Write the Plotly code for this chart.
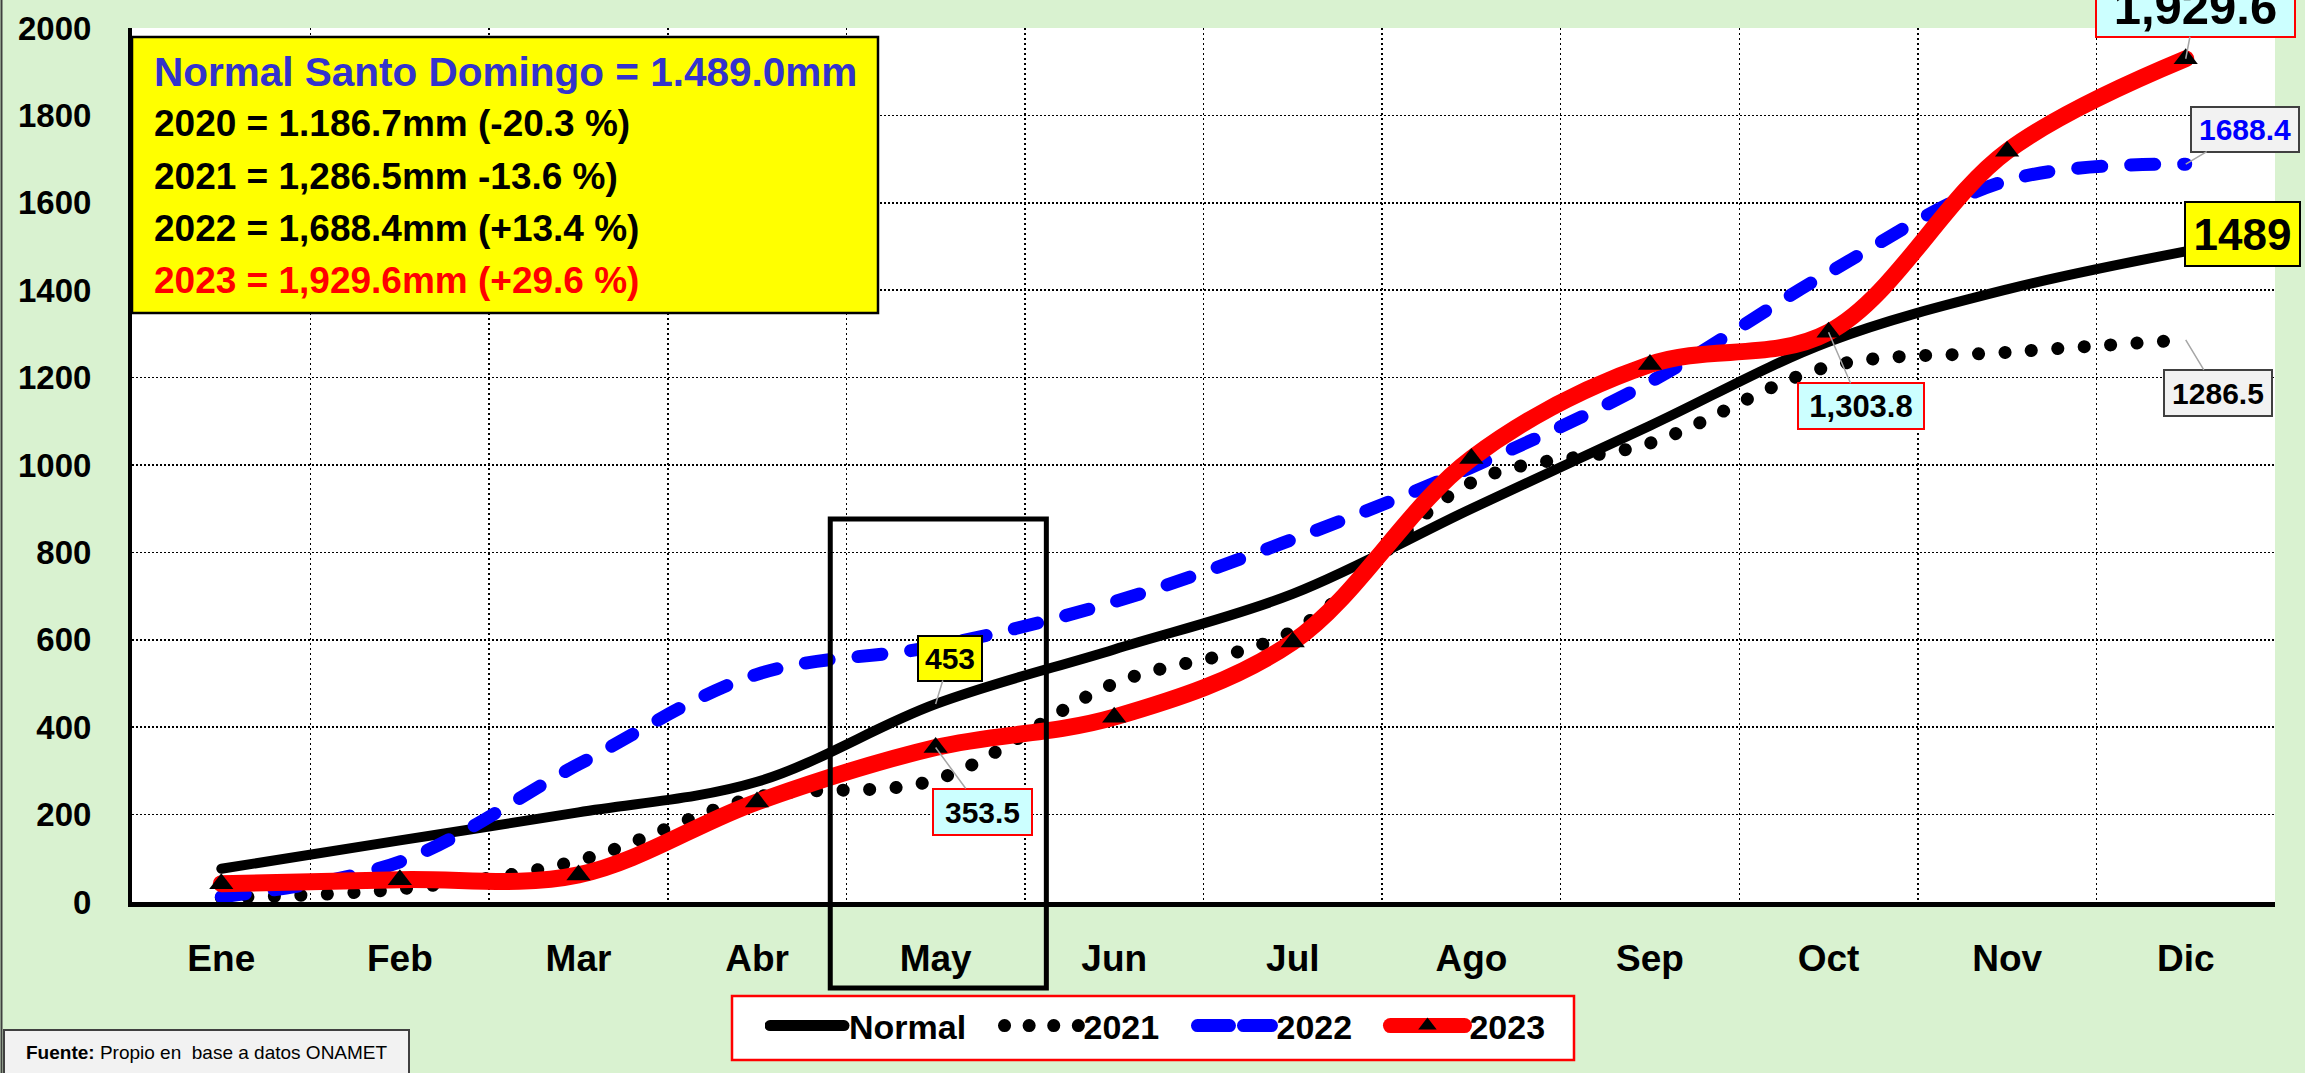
import plotly.graph_objects as go

# ---------------- data ----------------
months = ["Ene", "Feb", "Mar", "Abr", "May", "Jun", "Jul", "Ago", "Sep", "Oct", "Nov", "Dic"]
normal = [76, 141, 205, 275, 453, 578, 705, 900, 1090, 1282, 1402, 1489]
y2021 = [10, 30, 95, 240, 280, 500, 620, 960, 1050, 1225, 1258, 1286.5]
y2022 = [12, 92, 315, 521, 585, 687, 830, 995, 1190, 1440, 1651, 1688.4]
y2023 = [42, 51, 62, 229, 353.5, 423, 595, 1015, 1230, 1303.8, 1718, 1929.6]
y_ticks = [0, 200, 400, 600, 800, 1000, 1200, 1400, 1600, 1800, 2000]
series_names = ["Normal", "2021", "2022", "2023"]

stats_text = [
    "Normal Santo Domingo = 1.489.0mm",
    "2020 = 1.186.7mm (-20.3 %)",
    "2021 = 1,286.5mm -13.6 %)",
    "2022 = 1,688.4mm (+13.4 %)",
    "2023 = 1,929.6mm (+29.6 %)",
]
source_text = "<b>Fuente:</b> Propio en\u00a0 base a datos ONAMET"

# ---------------- geometry helpers (layout only) ----------------
W, H = 2305, 1073
L, R, T, B = 132, 2275, 28, 902
FONT = "Arial, Liberation Sans, sans-serif"


def px(xp):
    return (xp - L) / (R - L)


def py(yp):
    return (B - yp) / (B - T)


NB = "\u00a0"
legend_pad = [NB * 3, NB * 3, NB * 3, ""]

fig = go.Figure()
fig.add_trace(go.Scatter(x=months, y=normal, name=series_names[0] + legend_pad[0], mode="lines",
                         line=dict(color="black", width=10, shape="spline", smoothing=1)))
fig.add_trace(go.Scatter(x=months, y=y2021, name=series_names[1] + legend_pad[1], mode="lines",
                         line=dict(color="black", width=13, dash="13px,14px", shape="spline", smoothing=1)))
fig.add_trace(go.Scatter(x=months, y=y2022, name=series_names[2] + legend_pad[2], mode="lines",
                         line=dict(color="#0000FF", width=13, dash="37px,16px", shape="spline", smoothing=1)))
fig.add_trace(go.Scatter(x=months, y=y2023, name=series_names[3] + legend_pad[3], mode="lines+markers",
                         line=dict(color="#FF0000", width=17, shape="spline", smoothing=1),
                         marker=dict(symbol="triangle-up", size=21, color="black")))

shapes = []
annotations = []

# stats box
shapes.append(dict(type="rect", xref="paper", yref="paper", x0=px(132), x1=px(878), y0=py(313), y1=py(37),
                   fillcolor="#FFFF00", line=dict(color="black", width=2.5), layer="above"))
stat_colors = ["#3333CC", "black", "black", "black", "#FF0000"]
stat_sizes = [40.5, 37, 37, 37, 37]
stat_y = [72, 124, 176, 228, 280]
for txt, col, sz, yy in zip(stats_text, stat_colors, stat_sizes, stat_y):
    annotations.append(dict(text=txt, xref="paper", yref="paper", x=px(152), y=py(yy),
                            xanchor="left", yanchor="middle", showarrow=False,
                            font=dict(family=FONT, size=sz, color=col, weight="bold")))

# May highlight rectangle
may_i = months.index("May")
shapes.append(dict(type="rect", xref="paper", yref="paper",
                   x0=(may_i - 0.59 + 0.5) / 12, x1=(may_i + 0.62 + 0.5) / 12,
                   y0=py(988), y1=py(519), line=dict(color="black", width=5), layer="above"))

# legend frame (the legend itself is drawn transparent on top of it)
shapes.append(dict(type="rect", xref="paper", yref="paper", x0=px(732), x1=px(1574), y0=py(1060), y1=py(996),
                   fillcolor="white", line=dict(color="#FF0000", width=2.5), layer="above"))

# source box
shapes.append(dict(type="rect", xref="paper", yref="paper", x0=px(4), x1=px(409), y0=py(1090), y1=py(1030),
                   fillcolor="#F2F2F2", line=dict(color="#404040", width=2), layer="above"))
annotations.append(dict(text=source_text, xref="paper", yref="paper", x=px(24), y=py(1052),
                        xanchor="left", yanchor="middle", showarrow=False,
                        font=dict(family=FONT, size=19, color="black")))
# outer left border
shapes.append(dict(type="line", xref="paper", yref="paper", x0=px(1.5), x1=px(1.5), y0=py(-5), y1=py(1080),
                   line=dict(color="#404040", width=2)))

# data labels
CYAN, GRAY, YEL = "#CCFFFF", "#F2F2F2", "#FFFF00"
labels = [
    dict(i=4, v=normal[4], txt=f"{normal[4]:.0f}", ax=14, ay=-46, bg=YEL, bc="black", fc="black", fs=30, w=62, h=43),
    dict(i=4, v=y2023[4], txt=f"{y2023[4]:.1f}", ax=47, ay=64, bg=CYAN, bc="#FF0000", fc="black", fs=30, w=97, h=44),
    dict(i=9, v=y2023[9], txt=f"{y2023[9]:,.1f}", ax=32, ay=74, bg=CYAN, bc="#FF0000", fc="black", fs=31, w=124, h=44),
    dict(i=11, v=y2023[11], txt=f"{y2023[11]:,.1f}", ax=10, ay=-52, bg=CYAN, bc="#FF0000", fc="black", fs=49, w=197, h=58),
    dict(i=11, v=y2022[11], txt=f"{y2022[11]:.1f}", ax=59, ay=-35, bg=GRAY, bc="#404040", fc="#0000FF", fs=30, w=106, h=43),
    dict(i=11, v=normal[11], txt=f"{normal[11]:.0f}", ax=57, ay=-17, bg=YEL, bc="black", fc="black", fs=44, w=113, h=62),
    dict(i=11, v=y2021[11], txt=f"{y2021[11]:.1f}", ax=32, ay=53, bg=GRAY, bc="#404040", fc="black", fs=30, w=106, h=44),
]
for lb in labels:
    annotations.append(dict(x=months[lb["i"]], y=lb["v"], xref="x", yref="y", text=lb["txt"],
                            showarrow=True, arrowhead=0, arrowwidth=1.5, arrowcolor="#A6A6A6",
                            ax=lb["ax"], ay=lb["ay"], standoff=0,
                            bgcolor=lb["bg"], bordercolor=lb["bc"], borderwidth=2, borderpad=0,
                            width=lb["w"], height=lb["h"],
                            font=dict(family=FONT, size=lb["fs"], color=lb["fc"], weight="bold")))

fig.update_layout(
    width=W, height=H,
    margin=dict(l=L, r=W - R, t=T, b=H - B, pad=0, autoexpand=False),
    paper_bgcolor="#D9F2D0", plot_bgcolor="white",
    showlegend=True,
    legend=dict(orientation="h", x=px(1158), xanchor="center", y=py(997), yanchor="top",
                bgcolor="rgba(0,0,0,0)", borderwidth=0, itemwidth=74,
                font=dict(family=FONT, size=34, color="black", weight="bold")),
    xaxis=dict(type="category", categoryorder="array", categoryarray=months, range=[-0.5, 11.5],
               tickson="boundaries", showgrid=True, gridcolor="black", gridwidth=1.5, griddash="2px,3px",
               showline=True, linecolor="black", linewidth=5, ticks="", zeroline=False,
               ticklabelstandoff=20,
               tickfont=dict(family=FONT, size=37, color="black", weight="bold")),
    yaxis=dict(range=[0, 2000], tickvals=y_ticks, showgrid=True, gridcolor="black", gridwidth=1.5,
               griddash="2px,2px", showline=True, linecolor="black", linewidth=4, ticks="", zeroline=False,
               ticklabelstandoff=30,
               tickfont=dict(family=FONT, size=33, color="black", weight="bold")),
    shapes=shapes, annotations=annotations,
    hovermode=False,
)

post = """
(function(){
document.body.style.margin='0';
document.body.style.padding='0';
document.body.style.overflow='hidden';
var gd = document.getElementById('{plot_id}');
if(!gd) return;
var D = [null, '0.1 26.4', '24 29', null];
var LW = [11, 13, 13, 15];
var LD = [null, '0.1 24.5', '32 14', null];
var tr = gd.querySelectorAll('.scatterlayer .trace');
for (var i=0;i<tr.length;i++){
  var ps = tr[i].querySelectorAll('path.js-line');
  for (var j=0;j<ps.length;j++){
    ps[j].style.strokeLinecap='round';
    ps[j].style.strokeLinejoin='round';
    if (D[i]) ps[j].style.strokeDasharray = D[i];
  }
}
var lg = gd.querySelectorAll('.legend .traces');
for (var i=0;i<lg.length;i++){
  var ps = lg[i].querySelectorAll('path.js-line');
  for (var j=0;j<ps.length;j++){
    ps[j].style.strokeLinecap='round';
    ps[j].style.strokeWidth = LW[i]+'px';
    if (LD[i]) ps[j].style.strokeDasharray = LD[i];
  }
}
})();
"""

fig.write_html("out.html", post_script=post, config={"staticPlot": True})
